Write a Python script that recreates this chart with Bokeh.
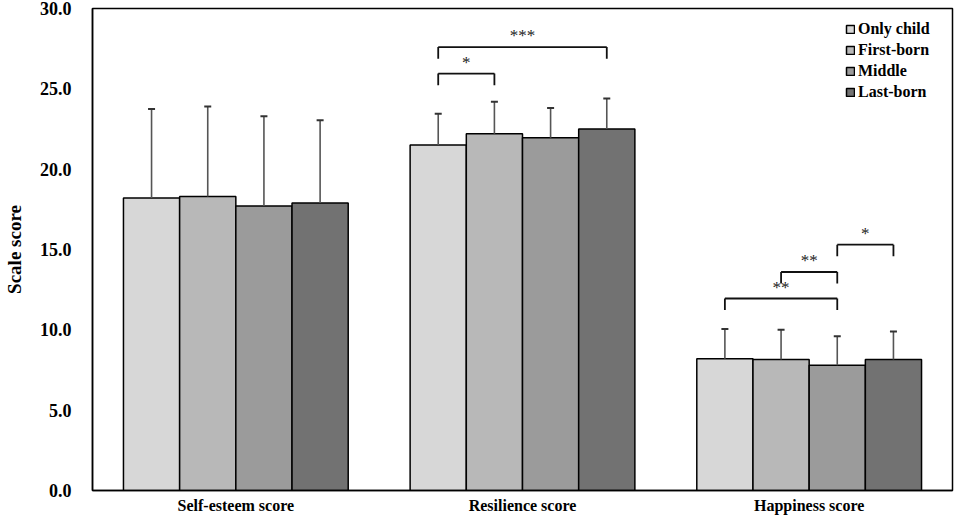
from bokeh.plotting import figure
from bokeh.models import (ColumnDataSource, Legend, LegendItem, FactorRange, Range1d,
                          FixedTicker, NumeralTickFormatter)
from bokeh.transform import dodge
from bokeh.core.properties import value
from bokeh.embed import file_html
from bokeh.resources import INLINE

categories = ["Self-esteem score", "Resilience score", "Happiness score"]
groups = ["Only child", "First-born", "Middle", "Last-born"]
mean_only = [18.2, 21.5, 8.2]
mean_first = [18.3, 22.2, 8.15]
mean_middle = [17.7, 21.95, 7.8]
mean_last = [17.9, 22.5, 8.15]
sd_only = [5.55, 1.95, 1.85]
sd_first = [5.6, 2.0, 1.85]
sd_middle = [5.6, 1.85, 1.8]
sd_last = [5.15, 1.9, 1.75]
y_ticks = [0, 5, 10, 15, 20, 25, 30]

# significance brackets
br_cat = ["Resilience score", "Resilience score", "Happiness score", "Happiness score", "Happiness score"]
br_left = [0, 0, 0, 1, 2]
br_right = [1, 3, 2, 2, 3]
br_height = [25.95, 27.6, 11.95, 13.6, 15.3]
br_label = ["*", "***", "**", "**", "*"]

colors = ["#d7d7d7", "#b8b8b8", "#9b9b9b", "#727272"]
means = [mean_only, mean_first, mean_middle, mean_last]
sds = [sd_only, sd_first, sd_middle, sd_last]
bar_w = 0.196
offsets = [(-1.5 + i) * bar_w for i in range(4)]
FONT = "Liberation Serif"
FW, FH = 860, 482

p = figure(frame_width=FW, frame_height=FH, x_range=FactorRange(*categories, range_padding=0),
           y_range=Range1d(0, 30), output_backend="svg", toolbar_location=None,
           min_border_top=8, min_border_right=2, min_border_bottom=5, min_border_left=5)
p.grid.visible = False
p.outline_line_color = "black"
p.outline_line_width = 1.5
p.background_fill_color = "white"
p.border_fill_color = "white"

items = []
for i, g in enumerate(groups):
    src = ColumnDataSource(dict(cat=categories, mean=means[i],
                                top=[m + s for m, s in zip(means[i], sds[i])]))
    xd = dodge("cat", offsets[i], range=p.x_range)
    r = p.vbar(x=xd, top="mean", bottom=0, width=bar_w, source=src,
               fill_color=colors[i], line_color="black", line_width=1.5)
    p.segment(x0=xd, x1=xd, y0="mean", y1="top", source=src,
              line_color="#555555", line_width=1.6)
    p.scatter(x=xd, y="top", marker="dash", size=7, source=src,
              line_color="#333333", line_width=2)
    items.append(LegendItem(label=g, renderers=[r]))

for c, l, rr, h, lab in zip(br_cat, br_left, br_right, br_height, br_label):
    src = ColumnDataSource(dict(cat=[c], y=[h], yl=[h - 0.72], yt=[h + 0.7]))
    xl = dodge("cat", offsets[l], range=p.x_range)
    xr = dodge("cat", offsets[rr], range=p.x_range)
    xm = dodge("cat", (offsets[l] + offsets[rr]) / 2, range=p.x_range)
    p.segment(x0=xl, x1=xr, y0="y", y1="y", source=src, line_color="#111111", line_width=1.8)
    p.segment(x0=xl, x1=xl, y0="y", y1="yl", source=src, line_color="#111111", line_width=1.8)
    p.segment(x0=xr, x1=xr, y0="y", y1="yl", source=src, line_color="#111111", line_width=1.8)
    p.text(x=xm, y="yt", text=value(lab), source=src, text_font=value(FONT),
           text_font_size="17px", text_align="center", text_baseline="middle",
           text_color="#222222")

legend = Legend(items=items, location=(753, FH - 94))
legend.margin = 0
legend.padding = 8
legend.border_line_color = None
legend.background_fill_alpha = 0
legend.glyph_width = 10
legend.glyph_height = 10
legend.label_height = 21
legend.spacing = 0
legend.label_standoff = 3
legend.label_text_font = FONT
legend.label_text_font_style = "bold"
legend.label_text_font_size = "16px"
legend.label_text_color = "black"
p.add_layout(legend)

ya = p.yaxis[0]
ya.ticker = FixedTicker(ticks=y_ticks)
ya.formatter = NumeralTickFormatter(format="0.0")
ya.axis_label = "Scale score"
ya.axis_label_text_font = FONT
ya.axis_label_text_font_style = "bold"
ya.axis_label_text_font_size = "19px"
ya.axis_label_text_color = "black"
ya.axis_label_standoff = 12
ya.major_label_text_font = FONT
ya.major_label_text_font_style = "bold"
ya.major_label_text_font_size = "18px"
ya.major_label_text_color = "black"
ya.major_label_standoff = 15
ya.major_tick_line_color = None
ya.minor_tick_line_color = None
ya.axis_line_color = "black"
ya.axis_line_width = 1.5

xa = p.xaxis[0]
xa.major_label_text_font = FONT
xa.major_label_text_font_style = "bold"
xa.major_label_text_font_size = "16px"
xa.major_label_text_color = "black"
xa.major_label_standoff = 0
xa.major_tick_line_color = None
xa.axis_line_color = "black"
xa.axis_line_width = 1.5

open("out.html", "w").write(file_html(p, INLINE))
